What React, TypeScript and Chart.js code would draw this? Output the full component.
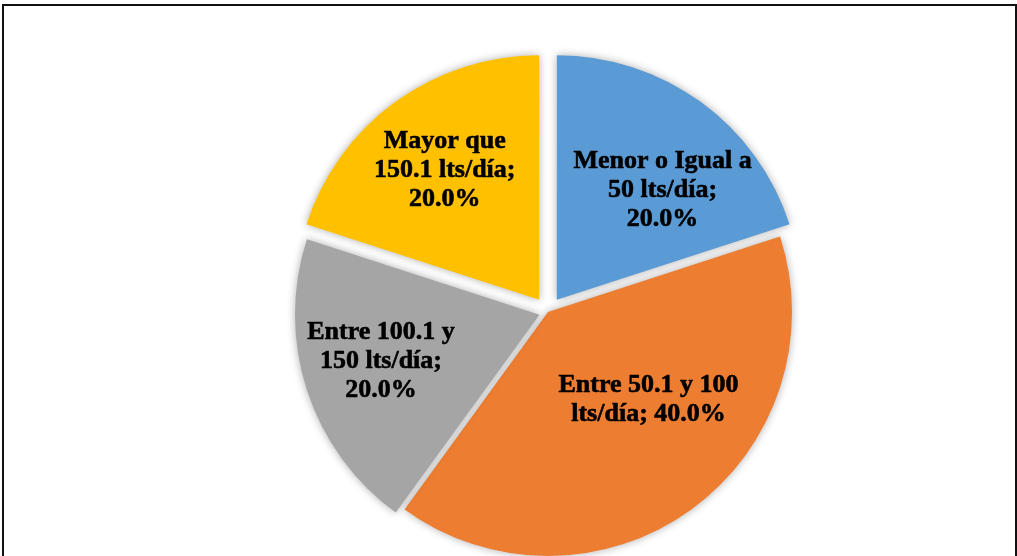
import React, { useEffect, useRef } from "react";
import { Chart, registerables } from "chart.js";

Chart.register(...registerables);

const categories = [
  "Menor o Igual a 50 lts/día",
  "Entre 50.1 y 100 lts/día",
  "Entre 100.1 y 150 lts/día",
  "Mayor que 150.1 lts/día",
];
const values = [20.0, 40.0, 20.0, 20.0];
const labelLines = [
  ["Menor o Igual a", "50 lts/día;", "20.0%"],
  ["Entre 50.1 y 100", "lts/día; 40.0%"],
  ["Entre 100.1 y", "150 lts/día;", "20.0%"],
  ["Mayor que", "150.1 lts/día;", "20.0%"],
];
const colors = ["#5B9BD5", "#ED7D31", "#A5A5A5", "#FFC000"];
const explode = [15, 0, 9, 15];
// label placement: angle (deg, clockwise from top) and distance from pie centre (px)
const labelPlacement = [
  { angle: 42.7, dist: 169 },
  { angle: 130.4, dist: 132 },
  { angle: 254.3, dist: 173.5 },
  { angle: 324.3, dist: 177 },
];

const shadowPlugin = {
  id: "shadowPlugin",
  beforeDatasetsDraw(chart: any) {
    const ctx = chart.ctx;
    ctx.save();
    ctx.shadowColor = "rgba(0,0,0,0.32)";
    ctx.shadowBlur = 9;
    ctx.shadowOffsetX = 0;
    ctx.shadowOffsetY = 0;
  },
  afterDatasetsDraw(chart: any) {
    chart.ctx.restore();
  },
};

const labelPlugin = {
  id: "labelPlugin",
  afterDatasetsDraw(chart: any) {
    const ctx = chart.ctx;
    const meta = chart.getDatasetMeta(0);
    ctx.save();
    ctx.font = "bold 26px 'Liberation Serif', 'Times New Roman', serif";
    ctx.fillStyle = "#000";
    ctx.strokeStyle = "#000";
    ctx.lineWidth = 0.6;
    ctx.lineJoin = "round";
    ctx.textAlign = "center";
    ctx.textBaseline = "alphabetic";
    const lh = 29;
    meta.data.forEach((arc: any, i: number) => {
      const p = labelPlacement[i];
      const a = (p.angle * Math.PI) / 180;
      const cx = arc.x + Math.sin(a) * p.dist;
      const cy = arc.y - Math.cos(a) * p.dist;
      const lines = labelLines[i];
      const startY = cy - ((lines.length - 1) * lh) / 2 + 9;
      lines.forEach((t, j) => {
        ctx.fillText(t, cx, startY + j * lh);
        ctx.strokeText(t, cx, startY + j * lh);
      });
    });
    ctx.restore();
  },
};

export default function App() {
  const ref = useRef<HTMLCanvasElement | null>(null);
  useEffect(() => {
    if (!ref.current) return;
    const chart = new Chart(ref.current, {
      type: "pie",
      data: {
        labels: categories,
        datasets: [
          {
            data: values,
            backgroundColor: colors,
            borderWidth: 0,
            offset: explode.map((o) => o * 4),
            clip: false as any,
          } as any,
        ],
      },
      options: {
        animation: false,
        responsive: false,
        maintainAspectRatio: false,
        radius: 244,
        layout: { padding: { left: 79, top: 68, right: 0, bottom: 0 } },
        plugins: {
          legend: { display: false },
          tooltip: { enabled: false },
        },
      } as any,
      plugins: [shadowPlugin, labelPlugin],
    });
    return () => chart.destroy();
  }, []);
  return (
    <div
      style={{
        position: "fixed",
        left: 0,
        top: 0,
        width: 1017,
        height: 556,
        background: "#fff",
        overflow: "hidden",
      }}
    >
      <canvas
        ref={ref}
        width={1017}
        height={556}
        style={{ position: "absolute", left: 0, top: 0, width: 1017, height: 556 }}
      />
      <div
        style={{
          position: "absolute",
          left: 2,
          top: 4,
          width: 1011,
          height: 600,
          borderTop: "2px solid #111",
          borderLeft: "2px solid #111",
          borderRight: "2px solid #111",
          pointerEvents: "none",
        }}
      />
    </div>
  );
}
